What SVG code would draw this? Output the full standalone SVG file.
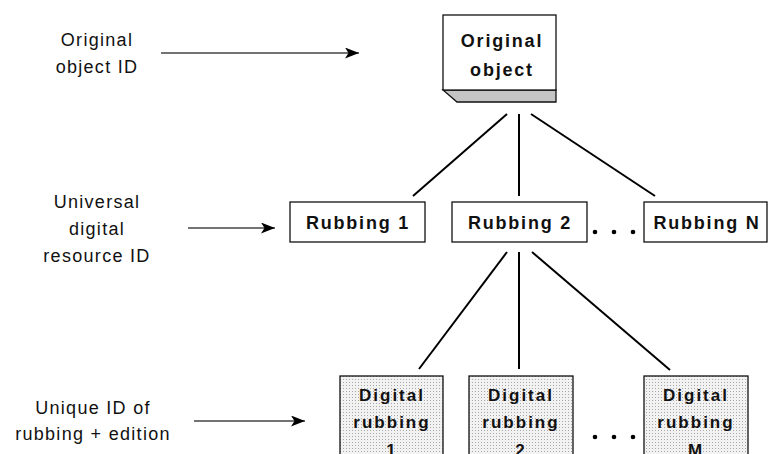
<svg xmlns="http://www.w3.org/2000/svg" width="769" height="454" viewBox="0 0 769 454">
  <style>
    .lbl { font-family: "Liberation Sans", Arial, sans-serif; font-size: 18px; letter-spacing: 1.3px; fill: #111; text-anchor: middle; }
    .bt { font-family: "Liberation Sans", Arial, sans-serif; font-weight: bold; fill: #111; text-anchor: middle; }
    .box { fill: #fff; stroke: #111; stroke-width: 1.3; }
    .dbox { fill: url(#dots); stroke: #111; stroke-width: 1.3; }
    .conn line { stroke: #000; stroke-width: 2; }
    .arr line { stroke: #444; stroke-width: 1.3; }
    .dot { fill: #000; }
  </style>
  <defs>
    <pattern id="dots" width="3" height="3" patternUnits="userSpaceOnUse">
      <rect width="3" height="3" fill="#f2f2f2"/>
      <rect x="1" y="1" width="1" height="1" fill="#a8a8a8"/>
    </pattern>
    <marker id="ah" viewBox="0 0 14 11" refX="14" refY="5.5" markerWidth="14" markerHeight="11" markerUnits="userSpaceOnUse" orient="auto">
      <path d="M0,0 L14,5.5 L0,11 L3.5,5.5 Z" fill="#000"/>
    </marker>
  </defs>

  <rect width="769" height="454" fill="#fff"/>

  <!-- side labels with arrows -->
  <g id="label-original">
    <text class="lbl" x="97" y="46">Original</text>
    <text class="lbl" x="97" y="73">object ID</text>
  </g>
  <g id="label-universal">
    <text class="lbl" x="97" y="208">Universal</text>
    <text class="lbl" x="97" y="235">digital</text>
    <text class="lbl" x="97" y="262">resource ID</text>
  </g>
  <g id="label-unique">
    <text class="lbl" x="93" y="414">Unique ID of</text>
    <text class="lbl" x="93" y="440">rubbing + edition</text>
  </g>
  <g class="arr">
    <line x1="161" y1="53" x2="359" y2="53" marker-end="url(#ah)"/>
    <line x1="188" y1="228" x2="275" y2="228" marker-end="url(#ah)"/>
    <line x1="194" y1="421" x2="305" y2="421" marker-end="url(#ah)"/>
  </g>

  <!-- tree connectors -->
  <g class="conn">
    <line x1="507" y1="114" x2="413" y2="196"/>
    <line x1="519" y1="114" x2="519" y2="196"/>
    <line x1="531" y1="114" x2="655" y2="196"/>
    <line x1="507" y1="252" x2="419" y2="369"/>
    <line x1="519" y1="252" x2="519" y2="369"/>
    <line x1="532" y1="252" x2="670" y2="370"/>
  </g>

  <!-- root node: raised box -->
  <g id="original-object">
    <polygon points="443,90 556,90 556,102 457,102" fill="#c4c4c4" stroke="#111" stroke-width="1.3"/>
    <rect class="box" x="443" y="15" width="113" height="75"/>
    <text class="bt" x="502" y="47" font-size="18" letter-spacing="1.8">Original</text>
    <text class="bt" x="502" y="76" font-size="18" letter-spacing="1.8">object</text>
  </g>

  <!-- rubbings -->
  <g id="rubbing-1">
    <rect class="box" x="290" y="202" width="135" height="40"/>
    <text class="bt" x="358" y="229" font-size="18" letter-spacing="1.8">Rubbing 1</text>
  </g>
  <g id="rubbing-2">
    <rect class="box" x="452" y="202" width="135" height="40"/>
    <text class="bt" x="520" y="229" font-size="18" letter-spacing="1.8">Rubbing 2</text>
  </g>
  <g id="rubbing-n">
    <rect class="box" x="644" y="202" width="123" height="40"/>
    <text class="bt" x="707" y="229" font-size="18" letter-spacing="1.8">Rubbing N</text>
  </g>
  <g id="ellipsis-1">
    <circle class="dot" cx="595" cy="232" r="2.3"/>
    <circle class="dot" cx="614" cy="232" r="2.3"/>
    <circle class="dot" cx="633" cy="232" r="2.3"/>
  </g>

  <!-- digital rubbings -->
  <g id="digital-1">
    <rect class="dbox" x="340" y="376" width="103" height="90"/>
    <text class="bt" x="392" y="401" font-size="17" letter-spacing="2">Digital</text>
    <text class="bt" x="392" y="428" font-size="17" letter-spacing="2">rubbing</text>
    <text class="bt" x="392" y="456" font-size="17" letter-spacing="2">1</text>
  </g>
  <g id="digital-2">
    <rect class="dbox" x="469" y="376" width="104" height="90"/>
    <text class="bt" x="521" y="401" font-size="17" letter-spacing="2">Digital</text>
    <text class="bt" x="521" y="428" font-size="17" letter-spacing="2">rubbing</text>
    <text class="bt" x="521" y="456" font-size="17" letter-spacing="2">2</text>
  </g>
  <g id="digital-m">
    <rect class="dbox" x="644" y="376" width="104" height="90"/>
    <text class="bt" x="696" y="401" font-size="17" letter-spacing="2">Digital</text>
    <text class="bt" x="696" y="428" font-size="17" letter-spacing="2">rubbing</text>
    <text class="bt" x="696" y="456" font-size="17" letter-spacing="2">M</text>
  </g>
  <g id="ellipsis-2">
    <circle class="dot" cx="595" cy="437" r="2.3"/>
    <circle class="dot" cx="614" cy="437" r="2.3"/>
    <circle class="dot" cx="633" cy="437" r="2.3"/>
  </g>
</svg>
